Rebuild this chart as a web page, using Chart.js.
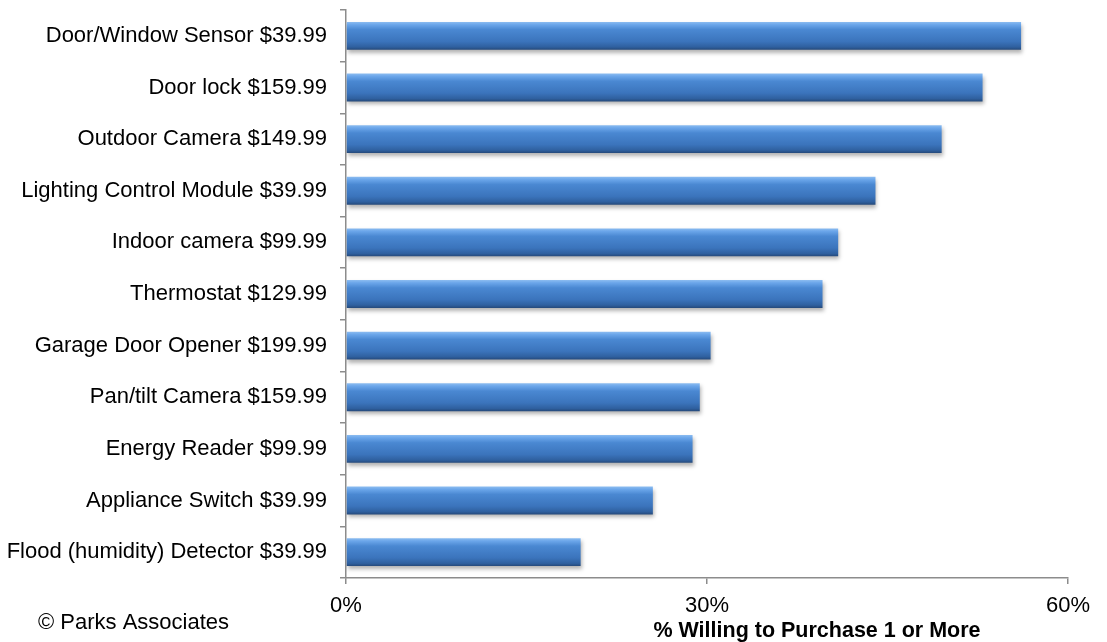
<!DOCTYPE html>
<html>
<head>
<meta charset="utf-8">
<script src="https://cdn.jsdelivr.net/npm/chart.js@4"></script>
<style>
  html, body { margin: 0; padding: 0; background: #fff; }
  #wrap { width: 1107px; height: 642px; position: relative; }
</style>
</head>
<body>
<div id="wrap"><canvas id="graph"></canvas></div>
<script>
// data
const labels = [
  'Door/Window Sensor $39.99',
  'Door lock $159.99',
  'Outdoor Camera $149.99',
  'Lighting Control Module $39.99',
  'Indoor camera $99.99',
  'Thermostat $129.99',
  'Garage Door Opener $199.99',
  'Pan/tilt Camera $159.99',
  'Energy Reader $99.99',
  'Appliance Switch $39.99',
  'Flood (humidity) Detector $39.99'
];
const willing = [56.1, 52.9, 49.5, 44.0, 40.9, 39.6, 30.3, 29.4, 28.8, 25.5, 19.5];
const xTicks = [0, 30, 60];

const axisGray = '#8c8c8c';
const barPct = 0.54;
const fontFam = '"Liberation Sans", Arial, sans-serif';

// vertical gradient for each bar, built from the category scale
function barFill(ctx) {
  const chart = ctx.chart;
  const ys = chart.scales.y;
  if (!ys || ctx.dataIndex === undefined) return '#3c78c0';
  const yc = ys.getPixelForValue(ctx.dataIndex);
  const half = (ys.height / labels.length) * barPct / 2;
  if (!isFinite(yc) || !isFinite(half) || half <= 0) return '#3c78c0';
  const g = chart.ctx.createLinearGradient(0, yc - half, 0, yc + half);
  g.addColorStop(0, '#8cbcf0');
  g.addColorStop(0.1, '#6ba6ea');
  g.addColorStop(0.28, '#4a88d2');
  g.addColorStop(0.7, '#3b74bc');
  g.addColorStop(0.9, '#2f609f');
  g.addColorStop(1, '#25497a');
  return g;
}

const shadowPlugin = {
  id: 'shadow',
  beforeDatasetDraw(chart) {
    const c = chart.ctx;
    c.save();
    c.shadowColor = 'rgba(0,0,0,0.3)';
    c.shadowBlur = 4;
    c.shadowOffsetX = 1;
    c.shadowOffsetY = 3;
  },
  afterDatasetDraw(chart) {
    chart.ctx.restore();
  }
};

const notesPlugin = {
  id: 'notes',
  afterDraw(chart) {
    const c = chart.ctx;
    c.save();
    c.fillStyle = '#000';
    c.textBaseline = 'middle';
    c.font = '22px ' + fontFam;
    c.textAlign = 'left';
    c.fillText('\u00A9 Parks Associates', 38, 623);
    c.font = 'bold 21.5px ' + fontFam;
    c.textAlign = 'center';
    c.fillText('% Willing to Purchase 1 or More', 817, 631);
    c.restore();
  }
};

const config = {
  type: 'bar',
  data: {
    labels: labels,
    datasets: [{
      data: willing,
      backgroundColor: barFill,
      borderWidth: 0,
      barPercentage: barPct,
      categoryPercentage: 1
    }]
  },
  options: {
    indexAxis: 'y',
    responsive: false,
    animation: false,
    layout: { padding: { top: 10, right: 39, left: 0, bottom: 0 } },
    plugins: { legend: { display: false }, tooltip: { enabled: false } },
    scales: {
      y: {
        border: { color: axisGray, width: 1.5 },
        grid: { display: true, drawOnChartArea: false, drawTicks: true, tickLength: 6, color: axisGray, lineWidth: 1.5, offset: true },
        ticks: { color: '#000', padding: 13, font: { family: fontFam, size: 22 } },
        afterFit(s) { s.width = 346; s.paddingTop = 0; s.paddingBottom = 0; }
      },
      x: {
        min: 0, max: 60,
        afterBuildTicks(s) { s.ticks = xTicks.map(v => ({ value: v })); },
        border: { color: axisGray, width: 1.5 },
        grid: { display: true, drawOnChartArea: false, drawTicks: true, tickLength: 6, color: axisGray, lineWidth: 1.5 },
        ticks: { color: '#000', padding: 9, maxRotation: 0, font: { family: fontFam, size: 22 }, callback: v => v + '%' },
        afterFit(s) { s.height = 642 - 578; }
      }
    }
  },
  plugins: [shadowPlugin, notesPlugin]
};

const cv = document.getElementById('graph');
cv.width = 1107; cv.height = 642;
cv.style.width = '1107px'; cv.style.height = '642px';
new Chart(cv, config);
</script>
</body>
</html>
